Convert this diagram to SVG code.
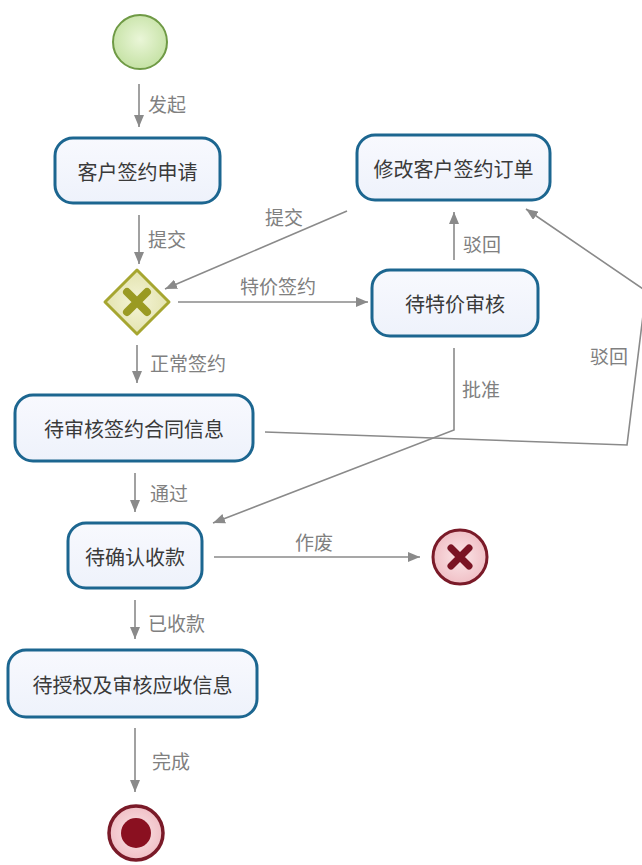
<svg xmlns="http://www.w3.org/2000/svg" width="642" height="865" viewBox="0 0 642 865">
<defs>
<style>
.task rect{fill:url(#taskg);stroke:#1c6690;stroke-width:3}
.task text{font-family:"Noto Sans CJK SC","Liberation Sans",sans-serif;font-size:20px;fill:#3a3a3a;text-anchor:middle;dominant-baseline:central}
.lbl{font-family:"Noto Sans CJK SC","Liberation Sans",sans-serif;font-size:19px;fill:#808080;dominant-baseline:central}
.edge{fill:none;stroke:#8a8a8a;stroke-width:1.6}
</style>
<linearGradient id="taskg" x1="0" y1="0" x2="0" y2="1"><stop offset="0" stop-color="#f8f9fe"/><stop offset="1" stop-color="#eef2fb"/></linearGradient>
<radialGradient id="startg" cx="0.5" cy="0.45" r="0.6"><stop offset="0" stop-color="#eaf6d8"/><stop offset="1" stop-color="#c2e0a0"/></radialGradient>
<radialGradient id="gwg" cx="0.5" cy="0.5" r="0.6"><stop offset="0" stop-color="#f4f4d6"/><stop offset="1" stop-color="#e0e0a8"/></radialGradient>
<radialGradient id="endg" cx="0.5" cy="0.5" r="0.6"><stop offset="0" stop-color="#fbe6e8"/><stop offset="1" stop-color="#eeb8bf"/></radialGradient>
<marker id="arrow" viewBox="0 0 12 10" refX="12" refY="5" markerWidth="12" markerHeight="10" markerUnits="userSpaceOnUse" orient="auto">
<path d="M0,0 L12,5 L0,10 z" fill="#8a8a8a"/>
</marker>
</defs>
<rect width="642" height="865" fill="#ffffff"/>

<g id="connectors">
<path class="edge" d="M139,84 L139,127" marker-end="url(#arrow)"/>
<path class="edge" d="M139,215 L139,264" marker-end="url(#arrow)"/>
<path class="edge" d="M347,211 L165,289" marker-end="url(#arrow)"/>
<path class="edge" d="M178,302 L368,302" marker-end="url(#arrow)"/>
<path class="edge" d="M454,260 L454,212" marker-end="url(#arrow)"/>
<path class="edge" d="M137,345 L137,383" marker-end="url(#arrow)"/>
<path class="edge" d="M265,432 L627,445 L646,291 L526,209" marker-end="url(#arrow)"/>
<path class="edge" d="M454,348 L454,430 L213,523" marker-end="url(#arrow)"/>
<path class="edge" d="M135,473 L135,512" marker-end="url(#arrow)"/>
<path class="edge" d="M214,557 L420,557" marker-end="url(#arrow)"/>
<path class="edge" d="M135,600 L135,639" marker-end="url(#arrow)"/>
<path class="edge" d="M135,728 L135,792" marker-end="url(#arrow)"/>
<text class="lbl" x="148" y="103">发起</text>
<text class="lbl" x="148" y="238">提交</text>
<text class="lbl" x="265" y="216">提交</text>
<text class="lbl" x="240" y="285">特价签约</text>
<text class="lbl" x="463" y="243">驳回</text>
<text class="lbl" x="150" y="362">正常签约</text>
<text class="lbl" x="590" y="355">驳回</text>
<text class="lbl" x="462" y="388">批准</text>
<text class="lbl" x="150" y="492">通过</text>
<text class="lbl" x="295" y="541">作废</text>
<text class="lbl" x="148" y="622">已收款</text>
<text class="lbl" x="152" y="760">完成</text>
</g>

<g id="start">
<circle cx="140" cy="42" r="27" fill="url(#startg)" stroke="#6f9a45" stroke-width="2"/>
</g>

<g id="task1" class="task">
<rect x="55" y="138" width="165" height="65" rx="18"/>
<text x="137.5" y="171">客户签约申请</text>
</g>

<g id="gateway">
<path d="M137,270 L169,302 L137,334 L105,302 z" fill="url(#gwg)" stroke="#a6a630" stroke-width="3" stroke-linejoin="round"/>
<path d="M127,292 L147,312 M147,292 L127,312" stroke="#9a9a22" stroke-width="8" stroke-linecap="round"/>
</g>

<g id="task-modify" class="task">
<rect x="357" y="135" width="193" height="65" rx="18"/>
<text x="453.5" y="168">修改客户签约订单</text>
</g>

<g id="task-special" class="task">
<rect x="372" y="270" width="166" height="66" rx="18"/>
<text x="455" y="303">待特价审核</text>
</g>

<g id="task-review" class="task">
<rect x="15" y="395" width="238" height="66" rx="18"/>
<text x="134" y="428">待审核签约合同信息</text>
</g>

<g id="task-confirm" class="task">
<rect x="68" y="523" width="134" height="65" rx="18"/>
<text x="135" y="556">待确认收款</text>
</g>

<g id="end-cancel">
<circle cx="460" cy="557" r="27" fill="url(#endg)" stroke="#7a1a28" stroke-width="3"/>
<path d="M451,548 L469,566 M469,548 L451,566" stroke="#7a1424" stroke-width="7" stroke-linecap="round"/>
</g>

<g id="task-auth" class="task">
<rect x="8" y="650" width="249" height="67" rx="18"/>
<text x="132.5" y="684">待授权及审核应收信息</text>
</g>

<g id="end">
<circle cx="136" cy="833" r="27" fill="url(#endg)" stroke="#7a1a28" stroke-width="3.5"/>
<circle cx="136" cy="833" r="15" fill="#8a1020"/>
</g>
</svg>
